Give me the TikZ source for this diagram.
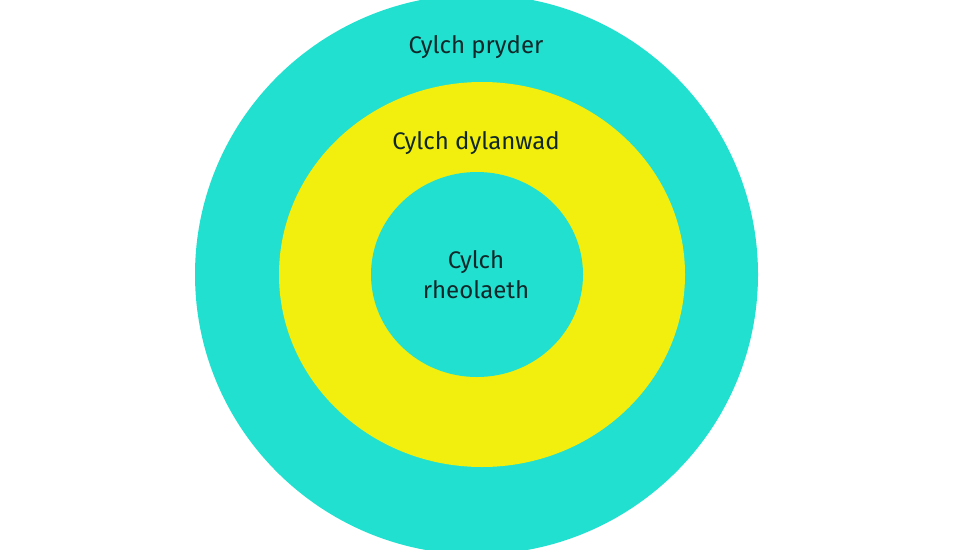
\documentclass[tikz,border=0pt]{standalone}
\usepackage{fontspec}
\setmainfont{Fira Sans}
\usepackage{tikz}
\usetikzlibrary{positioning}
\definecolor{ringcyan}{HTML}{22E0CF}
\definecolor{ringyellow}{HTML}{F2EE0E}
\definecolor{labeltext}{HTML}{10282A}

\begin{document}
\begin{tikzpicture}[
    x=1pt,y=-1pt,
    ring/.style={draw=none},
    label/.style={text=labeltext,font=\fontsize{24}{30}\selectfont,align=center,inner sep=0pt}
]
\useasboundingbox (0,0) rectangle (976,549);
\clip (0,0) rectangle (976,549);

% Outer ring
\fill[ring,ringcyan] (476.5,274.5) ellipse [x radius=281.5,y radius=280];

% Middle ring
\fill[ring,ringyellow] (482,274.5) ellipse [x radius=203,y radius=192.5];

% Inner ring
\fill[ring,ringcyan] (477,274.5) ellipse [x radius=106,y radius=102.5];

% Labels
\node[label] (pryder) at (476,47) {Cylch pryder};
\node[label] (dylanwad) at (476,143) {Cylch dylanwad};
\node[label] (rheolaeth) at (476,275) {Cylch\\rheolaeth};
\end{tikzpicture}
\end{document}
